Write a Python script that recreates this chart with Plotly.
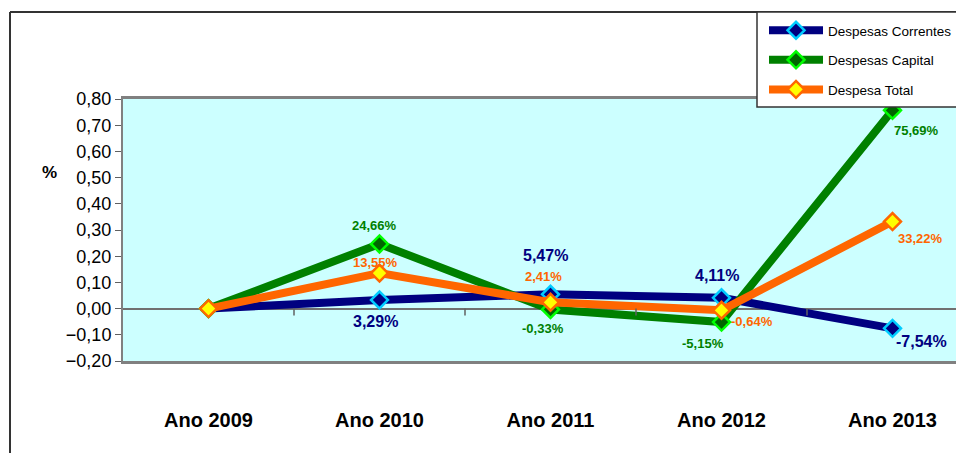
import plotly.graph_objects as go

categories = ["Ano 2009", "Ano 2010", "Ano 2011", "Ano 2012", "Ano 2013"]
correntes = [0.0, 0.0329, 0.0547, 0.0411, -0.0754]
capital = [0.0, 0.2466, -0.0033, -0.0515, 0.7569]
total = [0.0, 0.1355, 0.0241, -0.0064, 0.3322]
y_ticks = [-0.2, -0.1, 0.0, 0.1, 0.2, 0.3, 0.4, 0.5, 0.6, 0.7, 0.8]

OFF = 8  # page body margin offset
W, H = 964 - OFF, 453 - OFF
# target screen coords of the plot area
SL, ST, SB = 123, 99, 361
L = SL - OFF
T = ST - OFF
B = H - (SB - OFF)
R = 0
pw, ph = W - L - R, H - T - B

def px(x):
    return (x - OFF - L) / pw

def py(y):
    return (H - B - (y - OFF)) / ph

fig = go.Figure()

series = [
    ("Despesas Correntes", correntes, "#000080", "#000080", "#00CCFF"),
    ("Despesas Capital", capital, "#008000", "#006600", "#00FF00"),
    ("Despesa Total", total, "#FF6600", "#FFFF00", "#FF6600"),
]
for i, (name, vals, lc, mfill, mline) in enumerate(series):
    fig.add_trace(go.Scatter(
        x=categories, y=vals, name=name, mode="lines+markers",
        line=dict(color=lc, width=8),
        marker=dict(symbol="diamond", size=13, color=mfill, line=dict(color=mline, width=2.5)),
        legendgroup=f"g{i}",
    ))

# data labels (offsets in px)
lab_off = {
    "Despesas Correntes": [None, (-4, -22), (-5, 39), (-5, 22), (29, -13)],
    "Despesas Capital": [None, (-5, 18), (-8, -19), (-19, -21), (24, -20)],
    "Despesa Total": [None, (-4, 11), (-7, 26), (30, -11), (28, -17)],
}
lab_style = {
    "Despesas Correntes": ("#000080", 16),
    "Despesas Capital": ("#008000", 13),
    "Despesa Total": ("#FF6600", 13),
}
for name, vals, *_ in series:
    col, fs = lab_style[name]
    for j, v in enumerate(vals):
        off = lab_off[name][j]
        if off is None:
            continue
        txt = f"{v*100:.2f}%".replace(".", ",")
        fig.add_annotation(x=categories[j], y=v, xref="x", yref="y", text=f"<b>{txt}</b>",
                           showarrow=False, xshift=off[0], yshift=off[1],
                           font=dict(family="Arial, Liberation Sans", size=fs, color=col))

shapes = []
# outer frame
shapes.append(dict(type="line", xref="paper", yref="paper", x0=px(10), x1=px(10), y0=py(12), y1=py(470),
                   line=dict(color="#333333", width=2)))
shapes.append(dict(type="line", xref="paper", yref="paper", x0=px(10), x1=px(980), y0=py(12), y1=py(12),
                   line=dict(color="#333333", width=2)))
# category boundary ticks on zero line
for k in range(4):
    shapes.append(dict(type="line", xref="x", yref="y", x0=k + 0.5, x1=k + 0.5,
                       ysizemode="pixel", yanchor=0, y0=0, y1=-7,
                       line=dict(color="#606060", width=1.5)))
# legend box
shapes.append(dict(type="rect", xref="paper", yref="paper", x0=px(757), x1=px(985), y0=py(12), y1=py(107),
                   fillcolor="white", line=dict(color="#333333", width=1.5), layer="above"))

fig.add_annotation(xref="paper", yref="paper", x=px(49), y=py(172), xanchor="center", yanchor="middle",
                   text="<b>%</b>", showarrow=False,
                   font=dict(family="Arial, Liberation Sans", size=17, color="black"))

fig.update_layout(
    width=W, height=H,
    margin=dict(l=L, r=R, t=T, b=B, autoexpand=False),
    paper_bgcolor="white",
    plot_bgcolor="#CCFFFF",
    separators=",.",
    font=dict(family="Arial, Liberation Sans", color="black"),
    shapes=shapes,
    showlegend=True,
    legend=dict(
        xref="container", yref="container",
        x=(764 - OFF) / W, y=1 - (15 - OFF) / H, xanchor="left", yanchor="top",
        bgcolor="rgba(0,0,0,0)", borderwidth=0,
        font=dict(family="Arial, Liberation Sans", size=13.5, color="black"),
        itemwidth=54, tracegroupgap=9,
    ),
    xaxis=dict(
        type="category", range=[-0.5, -0.5 + pw / 171],
        showgrid=False, zeroline=False,
        showline=True, linecolor="#808080", linewidth=3, mirror=True,
        ticks="", ticklabelstandoff=39,
        tickfont=dict(family="Arial, Liberation Sans", size=20, color="black", weight="bold"),
        fixedrange=True,
    ),
    yaxis=dict(
        range=[-0.2, 0.8], tickvals=y_ticks, tickformat=".2f",
        showgrid=False, zeroline=True, zerolinecolor="#707070", zerolinewidth=1.5,
        showline=True, linecolor="#808080", linewidth=2, mirror=True,
        ticks="outside", ticklen=6, tickcolor="#606060", tickwidth=1,
        tickfont=dict(family="Arial, Liberation Sans", size=18, color="black"),
        fixedrange=True,
    ),
)

fig.write_html("out.html")
